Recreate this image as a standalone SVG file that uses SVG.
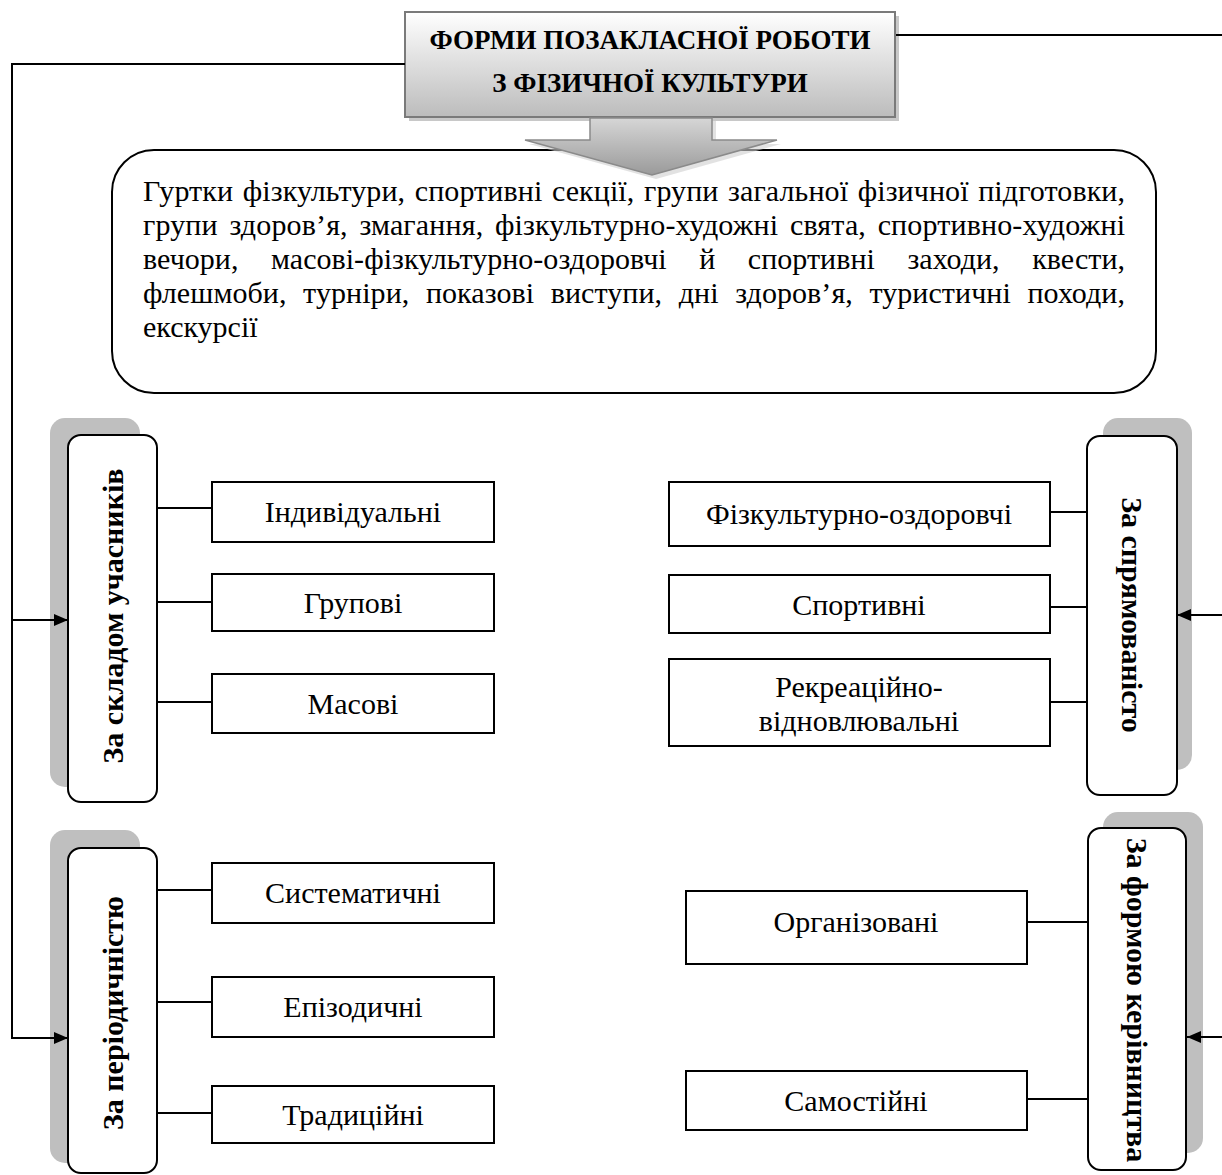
<svg xmlns="http://www.w3.org/2000/svg" width="1222" height="1175" viewBox="0 0 1222 1175">
<defs>
<linearGradient id="gTitle" x1="0" y1="0" x2="0" y2="1">
<stop offset="0" stop-color="#ffffff"/>
<stop offset="1" stop-color="#bcbcbc"/>
</linearGradient>
<linearGradient id="gArrow" x1="0" y1="0" x2="0" y2="1">
<stop offset="0" stop-color="#d6d6d6"/>
<stop offset="1" stop-color="#9a9a9a"/>
</linearGradient>
<marker id="ah" viewBox="0 0 14 12" refX="14" refY="6" markerWidth="14" markerHeight="12" markerUnits="userSpaceOnUse" orient="auto">
<path d="M0,0 L14,6 L0,12 Z" fill="#000"/>
</marker>
</defs>
<style>
.ln{fill:none;stroke:#000;stroke-width:2}
.box{fill:#fff;stroke:#000;stroke-width:2}
.cat{fill:#fff;stroke:#000;stroke-width:2}
.shd{fill:#bfbfbf}
.t{font-family:"Liberation Serif","Times New Roman",serif;font-size:30px;fill:#000}
.tb{font-family:"Liberation Serif","Times New Roman",serif;font-size:30px;font-weight:bold;fill:#000}
.tt{font-family:"Liberation Serif","Times New Roman",serif;font-size:27px;font-weight:bold;fill:#000}
</style>
<rect width="1222" height="1175" fill="#fff"/>

<g id="list">
<rect class="box" x="112" y="150" width="1044" height="243" rx="42" ry="42"/>
<text class="t" x="143" y="201" word-spacing="2" textLength="982" lengthAdjust="spacing">Гуртки фізкультури, спортивні секції, групи загальної фізичної підготовки,</text>
<text class="t" x="143" y="235" word-spacing="4" textLength="982" lengthAdjust="spacing">групи здоров’я, змагання, фізкультурно-художні свята, спортивно-художні</text>
<text class="t" x="143" y="269" word-spacing="25" textLength="982" lengthAdjust="spacing">вечори, масові-фізкультурно-оздоровчі й спортивні заходи, квести,</text>
<text class="t" x="143" y="303" word-spacing="9" textLength="982" lengthAdjust="spacing">флешмоби, турніри, показові виступи, дні здоров’я, туристичні походи,</text>
<text class="t" x="143" y="337">екскурсії</text>
</g>

<g id="title">
<rect x="409" y="16" width="490" height="105" fill="#c8c8c8"/>
<rect x="405" y="12" width="490" height="105" fill="url(#gTitle)" stroke="#7a7a7a" stroke-width="2"/>
<text class="tt" x="650" y="49" text-anchor="middle">ФОРМИ ПОЗАКЛАСНОЇ РОБОТИ</text>
<text class="tt" x="650" y="92" text-anchor="middle">З ФІЗИЧНОЇ КУЛЬТУРИ</text>
</g>

<g id="arrow">
<polygon points="594,121 716,121 716,144 781,144 656,179 529,144 594,144" fill="#cfcfcf" opacity="0.6"/>
<polygon points="590,118 712,118 712,140 777,140 652,175 525,140 590,140" fill="url(#gArrow)" stroke="#8a8a8a" stroke-width="1.5"/>
</g>

<g id="cat-participants">
<rect class="shd" x="50" y="418" width="90" height="369" rx="15"/>
<rect class="cat" x="68" y="435" width="89" height="367" rx="13"/>
<text class="tb" transform="translate(113,616) rotate(-90)" text-anchor="middle" dy="0.33em">За складом учасників</text>
</g>

<g id="cat-periodicity">
<rect class="shd" x="50" y="830" width="90" height="333" rx="15"/>
<rect class="cat" x="68" y="848" width="89" height="325" rx="13"/>
<text class="tb" transform="translate(113,1013) rotate(-90)" text-anchor="middle" dy="0.33em">За періодичністю</text>
</g>

<g id="cat-direction">
<rect class="shd" x="1103" y="418" width="89" height="352" rx="15"/>
<rect class="cat" x="1087" y="436" width="90" height="359" rx="13"/>
<text class="tb" transform="translate(1132,615) rotate(90)" text-anchor="middle" dy="0.33em">За спрямованісто</text>
</g>

<g id="cat-management">
<rect class="shd" x="1103" y="812" width="100" height="341" rx="15"/>
<rect class="cat" x="1088" y="828" width="98" height="342" rx="13"/>
<text class="tb" transform="translate(1137,1000) rotate(90)" text-anchor="middle" dy="0.33em">За формою керівництва</text>
</g>

<g id="n-individual"><rect class="box" x="212" y="482" width="282" height="60"/><text class="t" x="353" y="522" text-anchor="middle">Індивідуальні</text></g>
<g id="n-group"><rect class="box" x="212" y="574" width="282" height="57"/><text class="t" x="353" y="613" text-anchor="middle">Групові</text></g>
<g id="n-mass"><rect class="box" x="212" y="674" width="282" height="59"/><text class="t" x="353" y="714" text-anchor="middle">Масові</text></g>

<g id="n-systematic"><rect class="box" x="212" y="863" width="282" height="60"/><text class="t" x="353" y="903" text-anchor="middle">Систематичні</text></g>
<g id="n-episodic"><rect class="box" x="212" y="977" width="282" height="60"/><text class="t" x="353" y="1017" text-anchor="middle">Епізодичні</text></g>
<g id="n-traditional"><rect class="box" x="212" y="1086" width="282" height="57"/><text class="t" x="353" y="1125" text-anchor="middle">Традиційні</text></g>

<g id="n-health"><rect class="box" x="669" y="482" width="381" height="64"/><text class="t" x="859" y="524" text-anchor="middle">Фізкультурно-оздоровчі</text></g>
<g id="n-sport"><rect class="box" x="669" y="575" width="381" height="58"/><text class="t" x="859" y="615" text-anchor="middle">Спортивні</text></g>
<g id="n-recreation"><rect class="box" x="669" y="659" width="381" height="87"/><text class="t" x="859" y="697" text-anchor="middle">Рекреаційно-</text><text class="t" x="859" y="731" text-anchor="middle">відновлювальні</text></g>

<g id="n-organized"><rect class="box" x="686" y="891" width="341" height="73"/><text class="t" x="856" y="932" text-anchor="middle">Організовані</text></g>
<g id="n-independent"><rect class="box" x="686" y="1071" width="341" height="59"/><text class="t" x="856" y="1111" text-anchor="middle">Самостійні</text></g>

<g id="connectors">
<polyline class="ln" points="405,64 12,64 12,1038 68,1038" marker-end="url(#ah)"/>
<line class="ln" x1="12" y1="620" x2="68" y2="620" marker-end="url(#ah)"/>
<line class="ln" x1="896" y1="35" x2="1222" y2="35"/>
<line class="ln" x1="1222" y1="615" x2="1177" y2="615" marker-end="url(#ah)"/>
<line class="ln" x1="1222" y1="1037" x2="1187" y2="1037" marker-end="url(#ah)"/>
<line class="ln" x1="157" y1="508" x2="212" y2="508"/>
<line class="ln" x1="157" y1="602" x2="212" y2="602"/>
<line class="ln" x1="157" y1="702" x2="212" y2="702"/>
<line class="ln" x1="157" y1="890" x2="212" y2="890"/>
<line class="ln" x1="157" y1="1002" x2="212" y2="1002"/>
<line class="ln" x1="157" y1="1113" x2="212" y2="1113"/>
<line class="ln" x1="1050" y1="512" x2="1087" y2="512"/>
<line class="ln" x1="1050" y1="607" x2="1087" y2="607"/>
<line class="ln" x1="1050" y1="702" x2="1087" y2="702"/>
<line class="ln" x1="1027" y1="922" x2="1088" y2="922"/>
<line class="ln" x1="1027" y1="1099" x2="1088" y2="1099"/>
</g>
</svg>
